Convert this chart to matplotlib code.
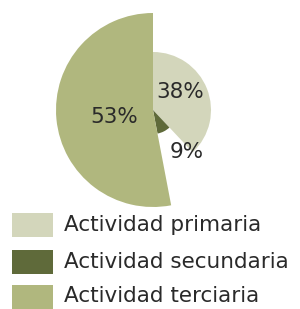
import matplotlib
matplotlib.use("Agg")
import matplotlib.pyplot as plt
from matplotlib.patches import Wedge, Rectangle

# datos
categorias = ["Actividad primaria", "Actividad secundaria", "Actividad terciaria"]
valores = [38, 9, 53]
etiquetas = ["38%", "9%", "53%"]

# estilo
colores = ["#d3d6bb", "#5f6a3a", "#b0b77e"]
radios = [58, 24, 97]           # cada porcion con su propio radio (px)
pos_etiquetas = [(180, 92), (187, 152), (114, 117)]  # en px desde arriba
centro = (153, 309 - 110)

W, H = 300, 309
fig = plt.figure(figsize=(W / 100, H / 100), dpi=100)
ax = fig.add_axes([0, 0, 1, 1])
ax.set_xlim(0, W)
ax.set_ylim(0, H)
ax.axis("off")

# sentido horario desde las 12
total = sum(valores)
inicio = 90.0
for v, r, c in zip(valores, radios, colores):
    ang = 360.0 * v / total
    ax.add_patch(Wedge(centro, r, inicio - ang, inicio, facecolor=c, edgecolor="none"))
    inicio -= ang

for txt, (x, y) in zip(etiquetas, pos_etiquetas):
    ax.text(x, H - y, txt, ha="center", va="center", fontsize=15.5,
            color="#2a2a2a", family="DejaVu Sans")

# leyenda
filas_y = [225, 261.5, 296.5]
for cat, c, y in zip(categorias, colores, filas_y):
    ax.add_patch(Rectangle((12, H - y - 12), 41, 24, facecolor=c, edgecolor="none"))
    ax.text(64, H - y, cat, ha="left", va="center", fontsize=15.5,
            color="#2a2a2a", family="DejaVu Sans")

fig.savefig("out.png", dpi=100)
